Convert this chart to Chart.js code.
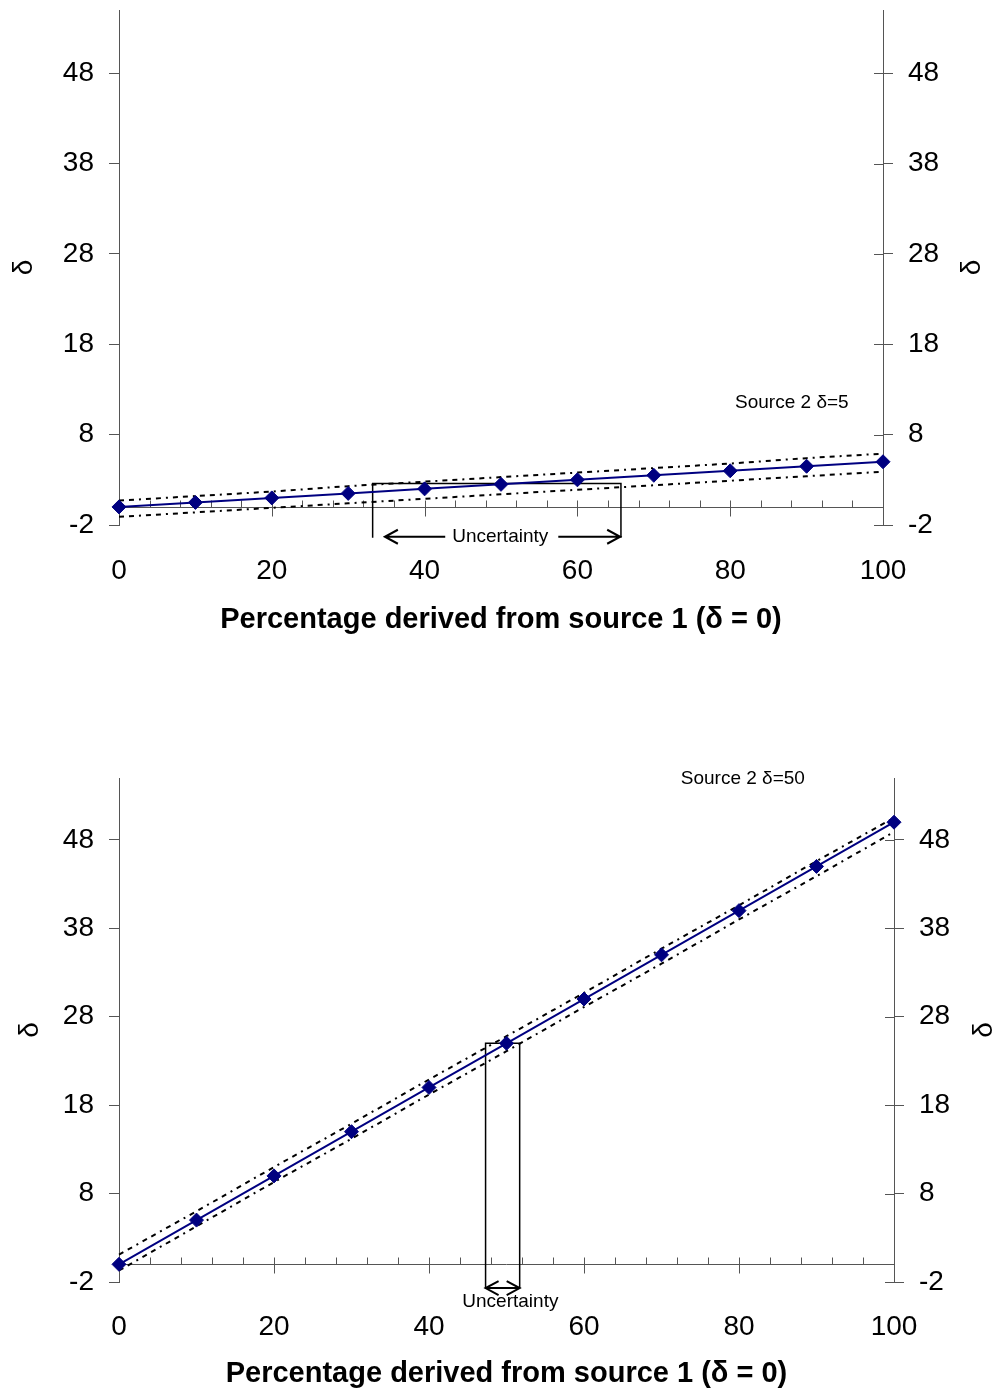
<!DOCTYPE html>
<html>
<head>
<meta charset="utf-8">
<script src="https://cdn.jsdelivr.net/npm/chart.js@4.4.1/dist/chart.umd.min.js"></script>
<style>
  html, body { margin: 0; padding: 0; background: #fff; }
  body { width: 994px; height: 1392px; position: relative; overflow: hidden; }
  canvas { position: absolute; left: 0; }
  #top-chart { top: 0; }
  #bottom-chart { top: 660px; }
</style>
</head>
<body>
<canvas id="top-chart" width="994" height="650"></canvas>
<canvas id="bottom-chart" width="994" height="732"></canvas>
<script>
// Shared axes
const X_VALUES = [0, 10, 20, 30, 40, 50, 60, 70, 80, 90, 100];
const Y_TICKS = [-2, 8, 18, 28, 38, 48];

// Top panel: source 2 delta = 5
const DELTA_TOP = [0, 0.5, 1, 1.5, 2, 2.5, 3, 3.5, 4, 4.5, 5];
const UPPER_TOP = [0.7, 1.2, 1.7, 2.3, 2.8, 3.3, 3.8, 4.3, 4.8, 5.4, 5.9];
const LOWER_TOP = [-1.1, -0.6, -0.1, 0.4, 0.9, 1.4, 1.9, 2.4, 2.9, 3.4, 3.9];
const UNC_X_TOP = [33.2, 33.2, 65.7, 65.7];
const UNC_Y_TOP = [-3.4, 2.6, 2.6, -3.4];

// Bottom panel: source 2 delta = 50
const DELTA_BOT = [0, 5, 10, 15, 20, 25, 30, 35, 40, 45, 50];
const UPPER_BOT = [1.1, 6.0, 11.0, 15.9, 20.9, 25.8, 30.7, 35.7, 40.6, 45.6, 50.5];
const LOWER_BOT = [-0.7, 4.3, 9.3, 14.2, 19.2, 24.1, 29.1, 34.0, 39.0, 43.9, 48.9];
const UNC_X_BOT = [47.3, 47.3, 51.7, 51.7];
const UNC_Y_BOT = [-2.7, 25, 25, -2.7];

const FONT = 'Arial, "Liberation Sans", sans-serif';
const AXIS_COLOR = '#555555';
const LINE_COLOR = '#000080';
const X_TITLE = 'Percentage derived from source 1 (\u03b4 = 0)';

const pts = (xs, ys) => xs.map((x, i) => ({ x, y: ys[i] }));

/** x axis line at delta = 0 with its minor/major ticks, plus inner half of right-axis ticks */
const axisDecor = {
  id: 'axisDecor',
  beforeDatasetsDraw(chart) {
    const { ctx, scales: { x, y, y2 } } = chart;
    const y0 = Math.round(y.getPixelForValue(0)) + 0.5;
    ctx.save();
    ctx.strokeStyle = AXIS_COLOR;
    ctx.lineWidth = 1;
    ctx.beginPath();
    ctx.moveTo(x.left, y0);
    ctx.lineTo(x.right, y0);
    for (let v = 4; v < 100; v += 4) {
      const px = Math.round(x.getPixelForValue(v)) + 0.5;
      ctx.moveTo(px, y0 - 7);
      ctx.lineTo(px, v % 20 === 0 ? y0 + 9 : y0);
    }
    Y_TICKS.forEach(v => {
      const py = Math.round(y2.getPixelForValue(v)) + 0.5;
      ctx.moveTo(y2.left - 9, py);
      ctx.lineTo(y2.left, py);
    });
    ctx.stroke();
    ctx.restore();
  },
};

function arrowHead(ctx, x, y, dir) {
  ctx.moveTo(x - dir * 13, y - 7);
  ctx.lineTo(x, y);
  ctx.lineTo(x - dir * 13, y + 7);
}

/** Text notes, uncertainty arrows and the right-hand delta label */
const notes = {
  id: 'notes',
  afterDatasetsDraw(chart, args, opts) {
    const { ctx, chartArea, scales: { x, y } } = chart;
    ctx.save();
    ctx.fillStyle = '#000';
    ctx.strokeStyle = '#000';
    ctx.lineWidth = 2;
    ctx.font = '19px ' + FONT;
    ctx.textBaseline = 'middle';

    const s = opts.source;
    ctx.textAlign = 'right';
    ctx.fillText(s.text, x.getPixelForValue(s.x), y.getPixelForValue(s.y));

    const l = opts.label;
    ctx.textAlign = 'center';
    ctx.fillText('Uncertainty', x.getPixelForValue(l.x), y.getPixelForValue(l.y));

    ctx.beginPath();
    opts.arrows.forEach(a => {
      const x0 = x.getPixelForValue(a.from);
      const x1 = x.getPixelForValue(a.to);
      const py = y.getPixelForValue(a.y);
      ctx.moveTo(x0, py);
      ctx.lineTo(x1, py);
      arrowHead(ctx, x1, py, Math.sign(x1 - x0));
      if (a.both) arrowHead(ctx, x0, py, Math.sign(x0 - x1));
    });
    ctx.stroke();

    // right axis title, turned the same way as the left one
    ctx.translate(opts.rightTitleX, (chartArea.top + chartArea.bottom) / 2);
    ctx.rotate(-Math.PI / 2);
    ctx.font = '28px ' + FONT;
    ctx.fillText('\u03b4', 0, 0);
    ctx.restore();
  },
};

function buildDatasets(delta, upper, lower, boxX, boxY) {
  const bound = data => ({
    data: pts(X_VALUES, data),
    borderColor: '#000',
    borderWidth: 2,
    borderDash: [5, 5, 5, 5, 2, 5],
    pointRadius: 0,
    tension: 0,
    clip: false,
  });
  return [
    {
      data: pts(X_VALUES, delta),
      borderColor: LINE_COLOR,
      backgroundColor: LINE_COLOR,
      borderWidth: 2,
      pointStyle: 'rectRot',
      pointRadius: 7,
      pointBorderWidth: 1,
      tension: 0,
      clip: false,
    },
    bound(upper),
    bound(lower),
    {
      data: pts(boxX, boxY),
      borderColor: '#000',
      borderWidth: 1.5,
      pointRadius: 0,
      tension: 0,
      clip: false,
    },
  ];
}

function yScale(position, width, titlePad) {
  return {
    type: 'linear',
    position,
    min: -2,
    max: 55,
    afterBuildTicks: s => { s.ticks = Y_TICKS.map(v => ({ value: v })); },
    afterFit: s => {
      s.width = width;
      s.paddingTop = 0;
      s.paddingBottom = 0;
    },
    grid: { drawOnChartArea: false, color: AXIS_COLOR, tickLength: 10 },
    border: { display: true, color: AXIS_COLOR, width: 1 },
    ticks: { color: '#000', padding: 15, font: { family: FONT, size: 28 } },
    title: {
      display: position === 'left',
      text: '\u03b4',
      color: '#000',
      padding: { top: titlePad, bottom: 0 },
      font: { family: FONT, size: 28 },
    },
  };
}

function renderPanel(canvas, p) {
  return new Chart(canvas, {
    type: 'line',
    data: { datasets: buildDatasets(p.delta, p.upper, p.lower, p.boxX, p.boxY) },
    options: {
      responsive: false,
      animation: false,
      layout: { padding: { top: p.padTop, left: 0, right: 0, bottom: 0 } },
      plugins: {
        legend: { display: false },
        tooltip: { enabled: false },
        notes: p.notes,
      },
      scales: {
        x: {
          type: 'linear',
          min: 0,
          max: 100,
          afterFit: s => { s.height = p.xHeight; },
          grid: { display: false, drawTicks: false },
          border: { display: false },
          ticks: { stepSize: 20, color: '#000', padding: p.xPad, font: { family: FONT, size: 28 } },
          title: {
            display: true,
            text: X_TITLE,
            color: '#000',
            padding: { top: 0, bottom: p.titlePad },
            font: { family: FONT, size: 29, weight: 'bold' },
          },
        },
        y: yScale('left', 119, p.leftTitlePad),
        y2: yScale('right', p.rightWidth, 0),
      },
    },
    plugins: [axisDecor, notes],
  });
}

renderPanel(document.getElementById('top-chart'), {
  delta: DELTA_TOP, upper: UPPER_TOP, lower: LOWER_TOP, boxX: UNC_X_TOP, boxY: UNC_Y_TOP,
  padTop: 10, xHeight: 125, xPad: 29, titlePad: 13,
  rightWidth: 111, leftTitlePad: 7,
  notes: {
    source: { text: 'Source 2 \u03b4=5', x: 95.5, y: 11.5 },
    label: { x: 49.9, y: -3.3 },
    arrows: [
      { from: 42.7, to: 34.8, y: -3.3 },
      { from: 57.5, to: 65.6, y: -3.3 },
    ],
    rightTitleX: 972,
  },
});

renderPanel(document.getElementById('bottom-chart'), {
  delta: DELTA_BOT, upper: UPPER_BOT, lower: LOWER_BOT, boxX: UNC_X_BOT, boxY: UNC_Y_BOT,
  padTop: 118, xHeight: 110, xPad: 28, titlePad: 1,
  rightWidth: 100, leftTitlePad: 13,
  notes: {
    source: { text: 'Source 2 \u03b4=50', x: 88.5, y: 54.9 },
    label: { x: 50.5, y: -4.26 },
    arrows: [
      { from: 47.3, to: 51.7, y: -2.68, both: true },
    ],
    rightTitleX: 984,
  },
});
</script>
</body>
</html>
